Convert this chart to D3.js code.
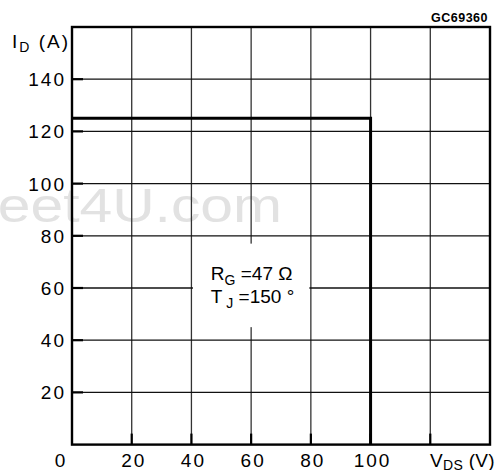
<!DOCTYPE html>
<html>
<head>
<meta charset="utf-8">
<script src="https://cdn.jsdelivr.net/npm/d3@7"></script>
<style>
  body { margin: 0; background: #fff; }
  svg text { font-family: "Liberation Sans", Arial, sans-serif; fill: #000; }
</style>
</head>
<body>
<div id="chart"></div>
<script>
// safe operating area outline (V_DS, I_D)
var soaV = [0, 100, 100];
var soaI = [125, 125, 0];
var xTicks = [0, 20, 40, 60, 80, 100, 120, 140];
var xTickLabels = ["0", "20", "40", "60", "80", "100"];
var yTicks = [0, 20, 40, 60, 80, 100, 120, 140, 160];
var yTickLabels = ["20", "40", "60", "80", "100", "120", "140"];

var svgWidth = 497;
var svgHeight = 470;
var margin = { top: 27, right: 7, bottom: 25.5, left: 72 };
var width = 490 - margin.left;
var height = 444.6 - margin.top;

var svg = d3.select("#chart")
    .append("svg")
    .attr("width", svgWidth)
    .attr("height", svgHeight);

// watermark behind everything
svg.append("text")
    .attr("transform", "translate(282,222) scale(1.2,1)")
    .attr("text-anchor", "end")
    .style("font-size", "49px")
    .style("fill", "#e2e2e2")
    .text("DataSheet4U.com");

var chartGroup = svg.append("g")
    .attr("transform", `translate(${margin.left},${margin.top})`);

var x = d3.scaleLinear().domain([0, 140]).range([0, width]);
var y = d3.scaleLinear().domain([0, 160]).range([height, 0]);

// grid
chartGroup.selectAll(".vgrid")
    .data(xTicks.slice(1, -1))
    .enter().append("line")
    .attr("x1", d => x(d)).attr("x2", d => x(d))
    .attr("y1", 0).attr("y2", height)
    .attr("stroke", "#333").attr("stroke-width", 1.3);

chartGroup.selectAll(".hgrid")
    .data(yTicks.slice(1, -1))
    .enter().append("line")
    .attr("x1", 0).attr("x2", width)
    .attr("y1", d => y(d)).attr("y2", d => y(d))
    .attr("stroke", "#111").attr("stroke-width", 1.3);

// inward tick marks
chartGroup.selectAll(".xtick")
    .data(xTicks.slice(1, -1))
    .enter().append("line")
    .attr("x1", d => x(d)).attr("x2", d => x(d))
    .attr("y1", height - 11).attr("y2", height)
    .attr("stroke", "#000").attr("stroke-width", 2.2);

chartGroup.selectAll(".ytick")
    .data(yTicks.slice(1, -1))
    .enter().append("line")
    .attr("x1", 0).attr("x2", 11)
    .attr("y1", d => y(d)).attr("y2", d => y(d))
    .attr("stroke", "#000").attr("stroke-width", 2.2);

// frame
chartGroup.append("rect")
    .attr("width", width).attr("height", height)
    .attr("fill", "none")
    .attr("stroke", "#000").attr("stroke-width", 2.4);

// SOA boundary
var line = d3.line()
    .x((d, i) => x(soaV[i]))
    .y((d, i) => y(soaI[i]));

chartGroup.append("path")
    .datum(soaV)
    .attr("d", line)
    .attr("fill", "none")
    .attr("stroke", "#000")
    .attr("stroke-width", 3);

// annotation box
chartGroup.append("rect")
    .attr("x", x(40) + 1.5).attr("y", y(77))
    .attr("width", x(80) - x(40) - 3)
    .attr("height", y(45) - y(77))
    .attr("fill", "#fff");

var note = chartGroup.append("g").style("font-size", "19px");
var t1 = note.append("text").attr("x", x(46.5)).attr("y", y(63));
t1.append("tspan").text("R");
t1.append("tspan").attr("dy", 5).style("font-size", "14px").text("G");
t1.append("tspan").attr("dy", -5).text(" =47 Ω");
var t2 = note.append("text").attr("x", x(46.5)).attr("y", y(54.2));
t2.append("tspan").text("T");
t2.append("tspan").attr("dy", 5).style("font-size", "14px").text(" J");
t2.append("tspan").attr("dy", -5).text(" =150 °");

// axis labels
var labels = svg.append("g")
    .style("font-size", "19px")
    .style("letter-spacing", "2px");

labels.selectAll(".ylab")
    .data(yTickLabels)
    .enter().append("text")
    .attr("x", 66)
    .attr("y", d => margin.top + y(+d) + 7)
    .attr("text-anchor", "end")
    .text(d => d);

labels.selectAll(".xlab")
    .data(xTickLabels)
    .enter().append("text")
    .attr("x", d => margin.left + x(+d) + (d === "0" ? -11 : 2))
    .attr("y", 467)
    .attr("text-anchor", "middle")
    .text(d => d);

var vds = labels.append("text").attr("x", 430).attr("y", 467)
    .style("letter-spacing", "0.3px");
vds.append("tspan").text("V");
vds.append("tspan").attr("dy", 3).style("font-size", "14px").text("DS");
vds.append("tspan").attr("dy", -3).text(" (V)");

var idl = labels.append("text").attr("x", 12).attr("y", 48);
idl.append("tspan").text("I");
idl.append("tspan").attr("dy", 4).style("font-size", "14px").text("D");
idl.append("tspan").attr("dy", -4).text(" (A)");

svg.append("text")
    .attr("x", 488).attr("y", 22)
    .attr("text-anchor", "end")
    .style("font-size", "12.5px")
    .style("font-weight", "bold")
    .style("letter-spacing", "0.5px")
    .text("GC69360");
</script>
</body>
</html>
